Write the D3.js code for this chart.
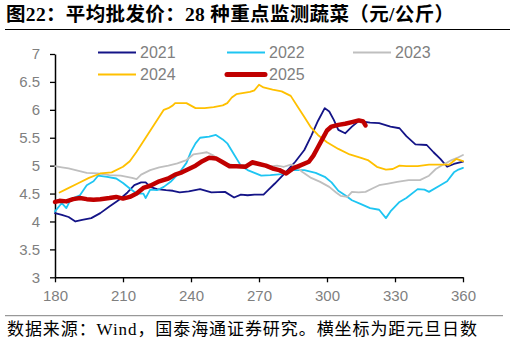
<!DOCTYPE html>
<html>
<head>
<meta charset="utf-8">
<script src="https://cdn.jsdelivr.net/npm/d3@7"></script>
<style>
  html, body { margin: 0; padding: 0; background: #fff; }
  svg { display: block; }
</style>
</head>
<body>
<svg id="chart" width="510" height="342"></svg>
<script>
// Average wholesale price of 28 key monitored vegetables (yuan/kg), by day of year
const seriesNames = ["2021", "2022", "2023", "2024", "2025"];
const seriesColors = ["#141487", "#1ec5f2", "#bfbfbf", "#ffc000", "#c00000"];
const seriesWidths = [1.8, 1.8, 1.8, 1.8, 4.5];

const xTicks = [180, 210, 240, 270, 300, 330, 360];
const yTicks = [3, 3.5, 4, 4.5, 5, 5.5, 6, 6.5, 7];

const v2021 = [
  [180,4.15],[183,4.12],[186,4.08],[189,4.00],[192,4.03],[196,4.06],[200,4.15],[204,4.27],
  [208,4.38],[212,4.52],[215,4.65],[218,4.70],[220,4.70],[222,4.62],[225,4.58],[229,4.56],
  [232,4.55],[235,4.52],[239,4.54],[244,4.58],[249,4.52],[255,4.53],[259,4.43],[262,4.48],
  [265,4.47],[268,4.48],[272,4.48],[274,4.56],[277,4.68],[281,4.85],[286,5.07],[290,5.28],
  [293,5.53],[296,5.80],[299,6.03],[301,5.97],[303,5.82],[305,5.64],[308,5.58],[311,5.70],
  [314,5.80],[319,5.77],[323,5.76],[328,5.70],[332,5.67],[335,5.53],[339,5.38],[344,5.37],
  [347,5.24],[350,5.12],[353,4.98],[356,5.03],[360,5.07]
];
const v2022 = [
  [180,4.18],[183,4.33],[185,4.24],[187,4.40],[191,4.47],[194,4.65],[197,4.72],[199,4.82],
  [203,4.80],[207,4.77],[210,4.69],[213,4.59],[216,4.50],[219,4.50],[220,4.42],[222,4.57],
  [225,4.56],[228,4.62],[231,4.71],[235,4.88],[238,5.05],[240,5.25],[242,5.40],[244,5.50],
  [248,5.52],[251,5.55],[254,5.47],[256,5.40],[259,5.20],[262,5.00],[265,4.92],[268,4.87],
  [271,4.82],[275,4.83],[280,4.85],[285,4.92],[290,4.92],[295,4.87],[299,4.80],[302,4.70],
  [305,4.55],[308,4.47],[311,4.38],[315,4.31],[319,4.24],[323,4.21],[326,4.06],[328,4.18],
  [332,4.35],[335,4.42],[340,4.58],[343,4.57],[345,4.53],[350,4.65],[353,4.72],[356,4.88],
  [358,4.93],[360,4.96]
];
const v2023 = [
  [180,4.99],[183,4.97],[186,4.95],[190,4.91],[194,4.87],[199,4.86],[204,4.83],[209,4.82],
  [214,4.78],[216,4.76],[218,4.84],[222,4.92],[226,4.97],[230,5.00],[234,5.04],[238,5.10],
  [241,5.20],[244,5.22],[247,5.24],[250,5.18],[253,5.08],[256,5.03],[260,5.00],[265,5.02],
  [270,5.02],[274,4.98],[278,5.00],[281,4.98],[284,5.02],[286,5.00],[289,4.89],[293,4.78],
  [297,4.71],[301,4.62],[304,4.52],[306,4.46],[309,4.44],[311,4.53],[314,4.52],[317,4.53],
  [320,4.59],[323,4.65],[327,4.68],[331,4.71],[336,4.74],[341,4.74],[345,4.82],[348,4.94],
  [351,5.01],[355,5.10],[358,5.15],[360,5.19]
];
const v2024 = [
  [182,4.52],[185,4.58],[190,4.68],[195,4.78],[200,4.86],[205,4.88],[210,4.98],[213,5.08],
  [216,5.25],[220,5.50],[224,5.75],[228,6.00],[230,6.03],[232,6.08],[233,6.12],[238,6.12],
  [242,6.03],[246,6.03],[250,6.05],[254,6.08],[256,6.12],[258,6.22],[260,6.28],[266,6.32],
  [268,6.35],[270,6.45],[272,6.40],[276,6.36],[280,6.33],[284,6.25],[287,6.06],[290,5.87],
  [293,5.68],[296,5.55],[300,5.42],[305,5.30],[310,5.20],[315,5.14],[318,5.10],[322,4.98],
  [326,4.93],[329,4.94],[332,5.00],[335,4.99],[340,4.99],[345,5.02],[350,5.02],[354,5.02],
  [357,5.12],[360,5.08]
];
const v2025 = [
  [180,4.35],[182,4.37],[185,4.36],[188,4.40],[191,4.42],[194,4.40],[197,4.39],[200,4.40],
  [204,4.42],[207,4.44],[210,4.41],[213,4.44],[216,4.50],[219,4.60],[222,4.64],[226,4.72],
  [230,4.77],[233,4.84],[236,4.88],[239,4.94],[242,5.00],[245,5.08],[248,5.14],[251,5.13],
  [254,5.06],[257,4.99],[260,4.99],[264,4.98],[267,5.06],[270,5.03],[273,5.00],[276,4.95],
  [279,4.92],[282,4.86],[285,4.95],[288,5.00],[292,5.07],[294,5.18],[296,5.33],[298,5.48],
  [300,5.63],[302,5.70],[305,5.73],[308,5.75],[311,5.78],[314,5.81],[316,5.79],[317,5.72]
];
const seriesValues = [v2021, v2022, v2023, v2024, v2025];

const svg = d3.select("#chart");
const serif = "'Liberation Serif', 'Noto Sans CJK SC', serif";
const sans = "'Liberation Sans', Arial, sans-serif";
const axisGray = "#7f7f7f";

// Title and rule beneath it
svg.append("text")
  .attr("x", 6).attr("y", 21)
  .attr("font-family", serif).attr("font-size", 19.5).attr("font-weight", "bold")
  .attr("fill", "#000")
  .attr("textLength", 448).attr("lengthAdjust", "spacing")
  .text("图22：平均批发价：28 种重点监测蔬菜（元/公斤）");
svg.append("line")
  .attr("x1", 5).attr("x2", 512).attr("y1", 29.5).attr("y2", 29.5)
  .attr("stroke", "#000").attr("stroke-width", 1);

// Scales
const x = d3.scaleLinear().domain([180, 360]).range([55, 463]);
const y = d3.scaleLinear().domain([3, 7]).range([277.3, 54]);

// Axes
const yAxis = svg.append("g")
  .attr("transform", `translate(${x(180)},0)`)
  .call(d3.axisLeft(y).tickValues(yTicks).tickSize(5).tickSizeOuter(0).tickPadding(10)
    .tickFormat(d => String(d)));
const xAxis = svg.append("g")
  .attr("transform", `translate(0,${y(3)})`)
  .call(d3.axisBottom(x).tickValues(xTicks).tickSize(5).tickSizeOuter(0).tickPadding(8)
    .tickFormat(d => String(d)));
[yAxis, xAxis].forEach(g => {
  g.select(".domain").attr("stroke", "#000").attr("stroke-width", 1.5);
  g.selectAll(".tick line").attr("stroke", "#000").attr("stroke-width", 1.3);
  g.selectAll(".tick text")
    .attr("font-family", sans).attr("font-size", 15).attr("fill", axisGray);
});

// Series lines
const line = d3.line().x(d => x(d[0])).y(d => y(d[1])).curve(d3.curveLinear);
seriesValues.forEach((vals, i) => {
  svg.append("path")
    .datum(vals)
    .attr("d", line)
    .attr("fill", "none")
    .attr("stroke", seriesColors[i])
    .attr("stroke-width", seriesWidths[i])
    .attr("stroke-linejoin", "round")
    .attr("stroke-linecap", "round");
});

// Legend, three entries per row
const legendX = [98, 227, 353];
const legendY = [52.5, 74.5];
seriesNames.forEach((name, i) => {
  const lx = legendX[i % 3];
  const ly = legendY[Math.floor(i / 3)];
  svg.append("line")
    .attr("x1", lx).attr("x2", lx + 38).attr("y1", ly).attr("y2", ly)
    .attr("stroke", seriesColors[i])
    .attr("stroke-width", i === 4 ? 5 : 2)
    .attr("stroke-linecap", i === 4 ? "round" : "butt");
  svg.append("text")
    .attr("x", lx + 42).attr("y", ly + 5.5)
    .attr("font-family", sans).attr("font-size", 16).attr("fill", axisGray)
    .text(name);
});

// Source note and rule above it
svg.append("line")
  .attr("x1", 5).attr("x2", 503).attr("y1", 315.7).attr("y2", 315.7)
  .attr("stroke", "#808080").attr("stroke-width", 1);
svg.append("text")
  .attr("x", 7).attr("y", 334.5)
  .attr("font-family", serif).attr("font-size", 17).attr("fill", "#000")
  .attr("textLength", 470).attr("lengthAdjust", "spacing")
  .text("数据来源：Wind，国泰海通证券研究。横坐标为距元旦日数");
</script>
</body>
</html>
